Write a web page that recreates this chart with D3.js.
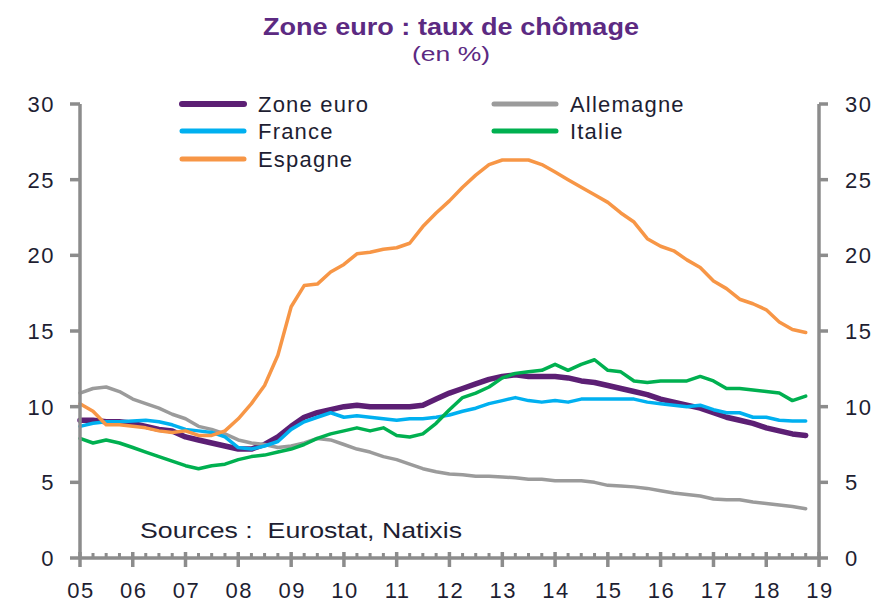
<!DOCTYPE html>
<html lang="fr">
  <head>
    <meta charset="UTF-8" />
    <script src="https://cdn.jsdelivr.net/npm/d3@7"></script>
    <style>
      * {
        margin: 0;
        padding: 0;
      }
      body {
        background: #fff;
      }
      svg text {
        font-family: 'Liberation Sans', Arial, sans-serif;
      }
    </style>
    <title>Zone euro : taux de chômage</title>
  </head>
  <body>
    <div id="chart"></div>
  </body>
  <script>
    // quarterly readings, Q1 2005 -> Q4 2018
    const zoneEuro = [
      9.1, 9.1, 9.0, 9.0, 8.9, 8.7, 8.5, 8.4, 8.0, 7.8, 7.6, 7.4, 7.2, 7.2,
      7.5, 8.0, 8.7, 9.3, 9.6, 9.8, 10.0, 10.1, 10.0, 10.0, 10.0, 10.0, 10.1,
      10.5, 10.9, 11.2, 11.5, 11.8, 12.0, 12.1, 12.0, 12.0, 12.0, 11.9, 11.7,
      11.6, 11.4, 11.2, 11.0, 10.8, 10.5, 10.3, 10.1, 9.9, 9.6, 9.3, 9.1, 8.9,
      8.6, 8.4, 8.2, 8.1,
    ];
    const france = [
      8.7, 8.9, 9.0, 9.0, 9.05, 9.1, 9.0, 8.8, 8.5, 8.4, 8.3, 8.0, 7.3, 7.2,
      7.4, 7.7, 8.5, 9.0, 9.3, 9.6, 9.3, 9.4, 9.3, 9.2, 9.1, 9.2, 9.2, 9.3,
      9.45, 9.7, 9.9, 10.2, 10.4, 10.6, 10.4, 10.3, 10.4, 10.3, 10.5, 10.5,
      10.5, 10.5, 10.5, 10.3, 10.2, 10.1, 10.0, 10.1, 9.8, 9.6, 9.6, 9.3, 9.3,
      9.1, 9.05, 9.05,
    ];
    const espagne = [
      10.2, 9.7, 8.8, 8.8, 8.7, 8.6, 8.4, 8.3, 8.4, 8.1, 8.1, 8.4, 9.2, 10.2,
      11.4, 13.4, 16.6, 18.0, 18.1, 18.9, 19.4, 20.1, 20.2, 20.4, 20.5, 20.8,
      21.9, 22.8, 23.6, 24.5, 25.3, 26.0, 26.3, 26.3, 26.3, 26.0, 25.5, 25.0,
      24.5, 24.0, 23.5, 22.8, 22.2, 21.1, 20.6, 20.3, 19.7, 19.2, 18.3, 17.8,
      17.1, 16.8, 16.4, 15.6, 15.1, 14.9,
    ];
    const allemagne = [
      10.9, 11.2, 11.3, 11.0, 10.5, 10.2, 9.9, 9.5, 9.2, 8.7, 8.5, 8.2, 7.8,
      7.6, 7.5, 7.3, 7.4, 7.6, 7.9, 7.8, 7.5, 7.2, 7.0, 6.7, 6.5, 6.2, 5.9, 5.7,
      5.55, 5.5, 5.4, 5.4, 5.35, 5.3, 5.2, 5.2, 5.1, 5.1, 5.1, 5.0, 4.8, 4.75,
      4.7, 4.6, 4.45, 4.3, 4.2, 4.1, 3.9, 3.85, 3.85, 3.7, 3.6, 3.5, 3.4, 3.25,
    ];
    const italie = [
      7.9, 7.6, 7.8, 7.6, 7.3, 7.0, 6.7, 6.4, 6.1, 5.9, 6.1, 6.2, 6.5, 6.7, 6.8,
      7.0, 7.2, 7.5, 7.9, 8.2, 8.4, 8.6, 8.4, 8.6, 8.1, 8.0, 8.2, 8.9, 9.8,
      10.6, 10.9, 11.3, 11.9, 12.2, 12.3, 12.4, 12.8, 12.4, 12.8, 13.1, 12.4,
      12.3, 11.7, 11.6, 11.7, 11.7, 11.7, 12.0, 11.7, 11.2, 11.2, 11.1, 11.0,
      10.9, 10.4, 10.7,
    ];

    const yearLabels = ['05', '06', '07', '08', '09', '10', '11', '12', '13', '14', '15', '16', '17', '18', '19'];
    const yTicks = [0, 5, 10, 15, 20, 25, 30];

    const seriesList = [
      { name: 'Zone euro', values: zoneEuro, color: '#5c1f74', width: 5.5 },
      { name: 'Allemagne', values: allemagne, color: '#9b9b9b', width: 3.5 },
      { name: 'France', values: france, color: '#00b0f0', width: 3.5 },
      { name: 'Italie', values: italie, color: '#00b050', width: 3.5 },
      { name: 'Espagne', values: espagne, color: '#f79646', width: 3.5 },
    ];
    // legend layout order (two columns)
    const legendOrder = ['Zone euro', 'France', 'Espagne', 'Allemagne', 'Italie'];

    const width = 893;
    const height = 613;
    const textColor = '#1e1e32';
    const axisColor = '#8c8c8c';

    const quarters = d3.timeMonth.every(3).range(new Date(2005, 0, 1), new Date(2019, 0, 1));

    const x = d3
      .scaleTime()
      .domain([new Date(2005, 0, 1), new Date(2019, 0, 1)])
      .range([80, 819]);
    const y = d3.scaleLinear().domain([0, 30]).range([558, 104]);

    const svg = d3
      .select('#chart')
      .append('svg')
      .attr('width', width)
      .attr('height', height);

    // title
    svg
      .append('text')
      .text('Zone euro : taux de chômage')
      .attr('x', 451)
      .attr('y', 35)
      .attr('text-anchor', 'middle')
      .attr('font-size', 23)
      .attr('font-weight', 'bold')
      .attr('fill', '#5c2a82')
      .attr('textLength', 376)
      .attr('lengthAdjust', 'spacingAndGlyphs');
    svg
      .append('text')
      .text('(en %)')
      .attr('x', 451)
      .attr('y', 61)
      .attr('text-anchor', 'middle')
      .attr('font-size', 21)
      .attr('fill', '#5c2a82')
      .attr('textLength', 78)
      .attr('lengthAdjust', 'spacingAndGlyphs');

    // lines
    const line = d3
      .line()
      .x((d, i) => x(quarters[i]))
      .y((d) => y(d));

    const lineLayer = svg.append('g');
    seriesList.forEach((s) => {
      lineLayer
        .append('path')
        .attr('d', line(s.values))
        .attr('fill', 'none')
        .attr('stroke', s.color)
        .attr('stroke-width', s.width)
        .attr('stroke-linejoin', 'round')
        .attr('stroke-linecap', 'round');
    });

    // left & right axes
    const axisLayer = svg.append('g').attr('stroke', axisColor);
    [x.range()[0], x.range()[1]].forEach((ax) => {
      axisLayer
        .append('line')
        .attr('x1', ax)
        .attr('x2', ax)
        .attr('y1', y(30))
        .attr('y2', y(0))
        .attr('stroke-width', 3.5);
    });
    axisLayer
      .selectAll('line.ytl')
      .data(yTicks)
      .join('line')
      .attr('class', 'ytl')
      .attr('x1', x.range()[0] - 10)
      .attr('x2', x.range()[0])
      .attr('y1', (d) => y(d))
      .attr('y2', (d) => y(d))
      .attr('stroke-width', 3.5);
    axisLayer
      .selectAll('line.ytr')
      .data(yTicks)
      .join('line')
      .attr('class', 'ytr')
      .attr('x1', x.range()[1])
      .attr('x2', x.range()[1] + 9)
      .attr('y1', (d) => y(d))
      .attr('y2', (d) => y(d))
      .attr('stroke-width', 3.5);

    // bottom axis
    axisLayer
      .append('line')
      .attr('x1', x.range()[0])
      .attr('x2', x.range()[1])
      .attr('y1', y(0))
      .attr('y2', y(0))
      .attr('stroke-width', 3.5);
    const years = d3.timeYear.range(new Date(2005, 0, 1), new Date(2019, 6, 1));
    axisLayer
      .selectAll('line.xmaj')
      .data(years)
      .join('line')
      .attr('class', 'xmaj')
      .attr('x1', (d) => x(d))
      .attr('x2', (d) => x(d))
      .attr('y1', y(0) - 6)
      .attr('y2', y(0) + 9)
      .attr('stroke-width', 3.5);
    const minorTicks = quarters.filter((d) => d.getMonth() !== 0);
    axisLayer
      .selectAll('line.xmin')
      .data(minorTicks)
      .join('line')
      .attr('class', 'xmin')
      .attr('x1', (d) => x(d))
      .attr('x2', (d) => x(d))
      .attr('y1', y(0) - 5)
      .attr('y2', y(0))
      .attr('stroke-width', 3);

    // tick labels (the source text is drawn a bit wide)
    const labelLayer = svg
      .append('g')
      .attr('fill', textColor)
      .attr('font-size', 22)
      .attr('letter-spacing', 1.5);
    labelLayer
      .selectAll('text.yl')
      .data(yTicks)
      .join('text')
      .attr('class', 'yl')
      .attr('x', 55)
      .attr('y', (d) => y(d) + 8)
      .attr('text-anchor', 'end')
      .text((d) => d);
    labelLayer
      .selectAll('text.yr')
      .data(yTicks)
      .join('text')
      .attr('class', 'yr')
      .attr('x', 845)
      .attr('y', (d) => y(d) + 8)
      .attr('text-anchor', 'start')
      .text((d) => d);
    labelLayer
      .selectAll('text.xl')
      .data(years)
      .join('text')
      .attr('class', 'xl')
      .attr('x', (d) => x(d) + 1)
      .attr('y', 598)
      .attr('text-anchor', 'middle')
      .text((d, i) => yearLabels[i]);

    // sources
    svg
      .append('text')
      .text('Sources :  Eurostat, Natixis')
      .attr('x', 140)
      .attr('y', 538)
      .attr('font-size', 22)
      .attr('fill', textColor)
      .attr('xml:space', 'preserve')
      .style('white-space', 'pre')
      .attr('textLength', 322)
      .attr('lengthAdjust', 'spacingAndGlyphs');

    // legend
    const legendPos = {
      'Zone euro': { x: 182, y: 104 },
      France: { x: 182, y: 131 },
      Espagne: { x: 182, y: 159 },
      Allemagne: { x: 494, y: 104 },
      Italie: { x: 494, y: 131 },
    };
    const legendLayer = svg.append('g');
    legendOrder.forEach((name) => {
      const s = seriesList.find((d) => d.name === name);
      const p = legendPos[name];
      legendLayer
        .append('line')
        .attr('x1', p.x)
        .attr('x2', p.x + 62)
        .attr('y1', p.y)
        .attr('y2', p.y)
        .attr('stroke', s.color)
        .attr('stroke-width', name === 'Zone euro' ? 6 : 5)
        .attr('stroke-linecap', 'round');
      legendLayer
        .append('text')
        .text(name)
        .attr('x', p.x + 76)
        .attr('y', p.y + 8)
        .attr('font-size', 22)
        .attr('letter-spacing', 1.2)
        .attr('fill', textColor);
    });
  </script>
</html>
